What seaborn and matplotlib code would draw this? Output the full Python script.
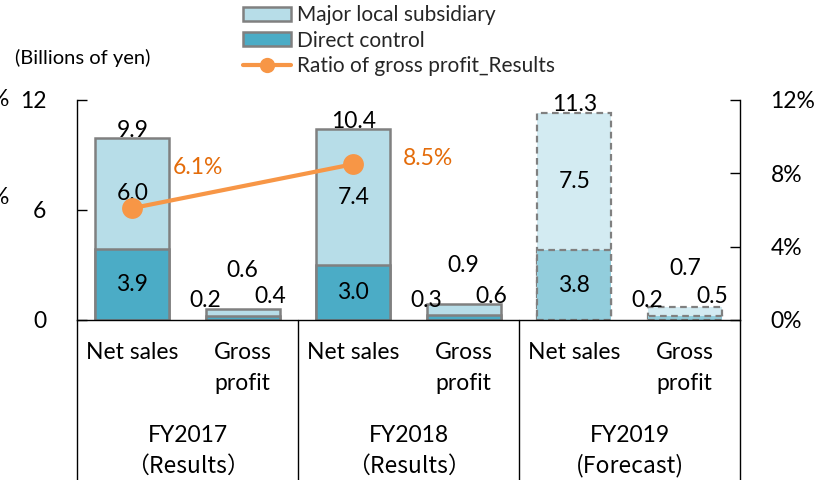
import matplotlib
matplotlib.use("Agg")
import matplotlib.pyplot as plt
import matplotlib.transforms as mtransforms
from matplotlib.patches import Patch
from matplotlib.lines import Line2D
import seaborn as sns
import pandas as pd

# ---------------- data ----------------
group_years = ["FY2017", "FY2018", "FY2019"]
group_status = ["（Results）", "（Results）", "(Forecast)"]
measures = ["Net sales", "Gross\nprofit"]
direct_control = [3.9, 0.2, 3.0, 0.3, 3.8, 0.2]
major_local = [6.0, 0.4, 7.4, 0.6, 7.5, 0.5]
totals = [9.9, 0.6, 10.4, 0.9, 11.3, 0.7]
forecast = [False, False, False, False, True, True]
ratio_pos = [0, 2]            # bars (Net sales FY2017, FY2018) carrying the ratio
ratio_vals = [6.1, 8.5]       # %
ratio_labels = ["6.1%", "8.5%"]
left_ticks = [0, 6, 12]
right_ticks = [0, 4, 8, 12]

# ---------------- style ----------------
sns.set_theme(style="white")
plt.rcParams["font.family"] = ["Lato", "Noto Sans CJK JP", "DejaVu Sans"]

C_MAJOR = "#B7DDE8"
C_DIRECT = "#4BACC6"
C_MAJOR_F = "#D3EBF2"
C_DIRECT_F = "#92CDDC"
C_EDGE = "#808080"
C_ORANGE = "#F79646"
C_ORANGE_T = "#E46C0A"
FS = 16.5

keys = [f"{g} {m}" for g in group_years for m in measures]
labels = [m for g in group_years for m in measures]
df = pd.DataFrame({"key": keys, "direct": direct_control,
                   "major": major_local, "total": totals})

fig = plt.figure(figsize=(8.17, 4.8), dpi=100)
ax = fig.add_axes([77 / 817, 1 - 320 / 480, (740 - 77) / 817, 220 / 480])

# totals (major local on top) then direct control on bottom
sns.barplot(data=df, x="key", y="total", order=keys, color=C_MAJOR,
            width=0.67, saturation=1, edgecolor=C_EDGE, linewidth=1.8, ax=ax)
n1 = len(ax.patches)
sns.barplot(data=df, x="key", y="direct", order=keys, color=C_DIRECT,
            width=0.67, saturation=1, edgecolor=C_EDGE, linewidth=1.8, ax=ax)
major_patches = ax.patches[:n1]
direct_patches = ax.patches[n1:]
for i, f in enumerate(forecast):
    if f:
        for p, c in ((major_patches[i], C_MAJOR_F), (direct_patches[i], C_DIRECT_F)):
            p.set_facecolor(c)
            p.set_linestyle((0, (3, 2)))
            p.set_linewidth(1.6)

ax.set_xlim(-0.5, 5.5)
ax.set_ylim(0, 12)
ax.set_yticks(left_ticks)
ax.set_yticklabels([str(t) for t in left_ticks])
ax.set_xticks(range(len(keys)))
ax.set_xticklabels(labels)
ax.set_xlabel("")
ax.set_ylabel("")
ax.tick_params(axis="y", direction="in", length=7, width=1, pad=22,
               labelsize=FS, colors="black", left=True)
ax.tick_params(axis="x", length=0, pad=16, labelsize=FS, colors="black")
for t in ax.get_xticklabels():
    t.set_linespacing(1.6)
    t.set_verticalalignment("top")
for s in ["top", "right"]:
    ax.spines[s].set_visible(False)
for s in ["left", "bottom"]:
    ax.spines[s].set_color("black")
    ax.spines[s].set_linewidth(1)

# data labels
for i in range(len(keys)):
    if i % 2 == 0:
        ax.text(i, direct_control[i] / 2, f"{direct_control[i]:.1f}",
                ha="center", va="center", fontsize=FS, color="black")
        ax.text(i, direct_control[i] + major_local[i] / 2, f"{major_local[i]:.1f}",
                ha="center", va="center", fontsize=FS, color="black")
        ax.text(i, totals[i] + 0.45, f"{totals[i]:.1f}",
                ha="center", va="center", fontsize=FS, color="black")
    else:
        ax.text(i - 0.34, 1.05, f"{direct_control[i]:.1f}",
                ha="center", va="center", fontsize=FS, color="black")
        ax.text(i + 0.25, 1.3, f"{major_local[i]:.1f}",
                ha="center", va="center", fontsize=FS, color="black")
        ax.text(i, totals[i] + 2.1, f"{totals[i]:.1f}",
                ha="center", va="center", fontsize=FS, color="black")

# group separators and group labels below the axis
trans = mtransforms.blended_transform_factory(ax.transData, ax.transAxes)
for xs in [-0.5, 1.5, 3.5, 5.5]:
    ax.add_line(Line2D([xs, xs], [0, -0.75], transform=trans, color="black",
                       linewidth=1, clip_on=False))
for gi, (gy, gs) in enumerate(zip(group_years, group_status)):
    ax.text(2 * gi + 0.5, -(435 - 320) / 220, gy, transform=trans, ha="center",
            va="center", fontsize=FS, color="black")
    ax.text(2 * gi + 0.5, -(466 - 320) / 220, gs, transform=trans, ha="center",
            va="center", fontsize=FS, color="black",
            family=["Noto Sans CJK JP", "DejaVu Sans"])

# secondary axis: ratio of gross profit
ax2 = ax.twinx()
sns.lineplot(x=ratio_pos, y=ratio_vals, ax=ax2, color=C_ORANGE, linewidth=3,
             marker="o", markersize=15, markeredgewidth=0)
ax2.set_ylim(0, 12)
ax2.set_yticks(right_ticks)
ax2.set_yticklabels([f"{t}%" for t in right_ticks])
ax2.tick_params(axis="y", direction="in", length=7, width=1, pad=22,
                labelsize=FS, colors="black", right=True)
for s in ["top", "left", "bottom"]:
    ax2.spines[s].set_visible(False)
ax2.spines["right"].set_color("black")
ax2.spines["right"].set_linewidth(1)
ax2.set_ylabel("")
ratio_offsets = [(47, 29), (54, 4)]
for x, v, lab, off in zip(ratio_pos, ratio_vals, ratio_labels, ratio_offsets):
    ax2.annotate(lab, (x, v), xytext=off, textcoords="offset points",
                 ha="center", va="center", fontsize=FS, color=C_ORANGE_T)

# legend
handles = [Patch(facecolor=C_MAJOR, edgecolor=C_EDGE, linewidth=1.8),
           Patch(facecolor=C_DIRECT, edgecolor=C_EDGE, linewidth=1.8),
           Line2D([0], [0], color=C_ORANGE, linewidth=3, marker="o",
                  markersize=11, markeredgewidth=0)]
fig.legend(handles, ["Major local subsidiary", "Direct control",
                     "Ratio of gross profit_Results"],
           loc="upper left", bbox_to_anchor=(243 / 817, 1 - 5 / 480), frameon=False,
           fontsize=15, handlelength=2.3, handleheight=0.65, handletextpad=0.3,
           labelspacing=0.27, borderaxespad=0, borderpad=0)

fig.text(15 / 817, 1 - 58 / 480, "(Billions of yen)", fontsize=14.5,
         ha="left", va="center", color="black")
# cut-off labels at the left edge (as in the source image)
for yy in (100, 198):
    fig.text(0, 1 - yy / 480, "%", fontsize=FS, ha="center", va="center",
             color="black")

fig.savefig("out.png", dpi=100)
